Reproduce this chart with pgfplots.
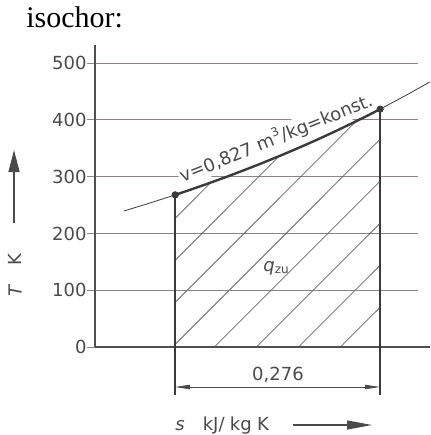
\documentclass[border=0pt]{standalone}
\usepackage{pgfplots}
\pgfplotsset{compat=1.18}
\usepackage{fontspec}
\setmainfont{DejaVu Sans}
\newfontfamily\titlefont{Liberation Serif}
\usetikzlibrary{arrows.meta}
\definecolor{txt}{HTML}{4A4A4A}
\definecolor{gridc}{HTML}{8E8282}
\definecolor{axc}{HTML}{505050}
\definecolor{curvec}{HTML}{3A3A3A}
\definecolor{hatchc}{HTML}{6E6666}
\newcommand{\lbl}{\fontsize{9}{10}\selectfont}
\begin{document}
\begin{tikzpicture}
\useasboundingbox (-47.5pt,-44pt) rectangle (167.5pt,173.5pt);
\begin{axis}[
  at={(0pt,0pt)}, anchor=south west,
  scale only axis, width=161.5pt, height=151pt,
  xmin=0, xmax=0.435, ymin=0, ymax=532,
  axis x line=none, axis y line=left,
  axis line style={-, axc, line width=0.8pt},
  ytick={0,100,200,300,400,500}, xtick=\empty,
  ymajorgrids, grid style={gridc, line width=0.45pt},
  tick align=outside, major tick length=4pt,
  ytick style={gridc, line width=0.45pt},
  yticklabel style={font=\lbl, text=txt, inner xsep=0pt},
  /pgf/number format/assume math mode=true,
  clip=false,
]
% hatching of the area q_zu
\pgfplotsset{hatch/.style={hatchc, line width=0.4pt}}
\addplot[hatch] coordinates {(0.108,226.7) (0.1561,289.8)};
\addplot[hatch] coordinates {(0.108,152.7) (0.2480,336.1)};
\addplot[hatch] coordinates {(0.108,78.7) (0.3513,397.2)};
\addplot[hatch] coordinates {(0.108,4.8) (0.384,365.9)};
\addplot[hatch] coordinates {(0.1608,0) (0.384,291.9)};
\addplot[hatch] coordinates {(0.2174,0) (0.384,217.9)};
\addplot[hatch] coordinates {(0.2739,0) (0.384,143.9)};
\addplot[hatch] coordinates {(0.3304,0) (0.384,69.9)};
% baseline
\addplot[axc, line width=0.8pt] coordinates {(0,0) (0.451,0)};
% label of the isochore
\node[rotate=22, fill=white, inner sep=0.6pt, text=txt, font=\lbl] at (axis cs:0.2436,368)
  {v=0,827 m\textsuperscript{3}/kg=konst.};
% thin isochore
\addplot[curvec, line width=0.4pt] coordinates {(0.039,239.7) (0.07,252.0) (0.108,268)
  (0.15,286.9) (0.2,311.1) (0.25,337.3) (0.3,365.7) (0.35,396.6) (0.384,419)
  (0.42,444.2) (0.451,467.0)};
% thick isochore segment
\addplot[curvec, line width=1.2pt] coordinates {(0.108,268) (0.125,275.5) (0.15,286.9)
  (0.175,298.7) (0.2,311.1) (0.225,323.9) (0.25,337.3) (0.275,351.2) (0.3,365.7)
  (0.325,380.8) (0.35,396.6) (0.367,407.6) (0.384,419)};
% verticals
\addplot[curvec, line width=0.9pt] coordinates {(0.108,-84.6) (0.108,268)};
\addplot[curvec, line width=0.9pt] coordinates {(0.384,-84.6) (0.384,419)};
% state points
\addplot[only marks, mark=*, mark size=1.6pt, curvec] coordinates {(0.108,268) (0.384,419)};
\end{axis}
% title
\node[anchor=base west, inner sep=0pt, font=\titlefont\fontsize{15}{18}\selectfont] at (-34.5pt,160pt) {isochor:};
% y label and arrow
\draw[txt, line width=0.6pt, -{Triangle[length=11pt,width=5.5pt]}] (-40.5pt,62pt) -- (-40.5pt,98.5pt);
\node[rotate=90, text=txt, font=\lbl, inner sep=0pt] at (-40pt,35.75pt) {\textit{T}\hspace{1.05em}K};
% x label and arrow
\node[anchor=base west, inner sep=0pt, text=txt, font=\lbl] at (40pt,-41.5pt) {\textit{s}\hspace{1em}kJ/\hspace{0.3em}kg\hspace{0.3em}K};
\draw[txt, line width=0.6pt, -{Triangle[length=12.5pt,width=4.5pt]}] (99pt,-39pt) -- (138.5pt,-39pt);
% dimension
\draw[txt, line width=0.4pt, {Triangle[length=7.5pt,width=2.2pt]}-{Triangle[length=7.5pt,width=2.2pt]}] (40pt,-20pt) -- (142.5pt,-20pt);
\node[anchor=base, inner sep=0pt, text=txt, font=\lbl] at (91.5pt,-16.5pt) {0,276};
% q_zu
\node[anchor=base west, inner sep=0pt, text=txt, font=\lbl] at (84pt,37.6pt) {\textit{q}\textsubscript{zu}};
\end{tikzpicture}
\end{document}
